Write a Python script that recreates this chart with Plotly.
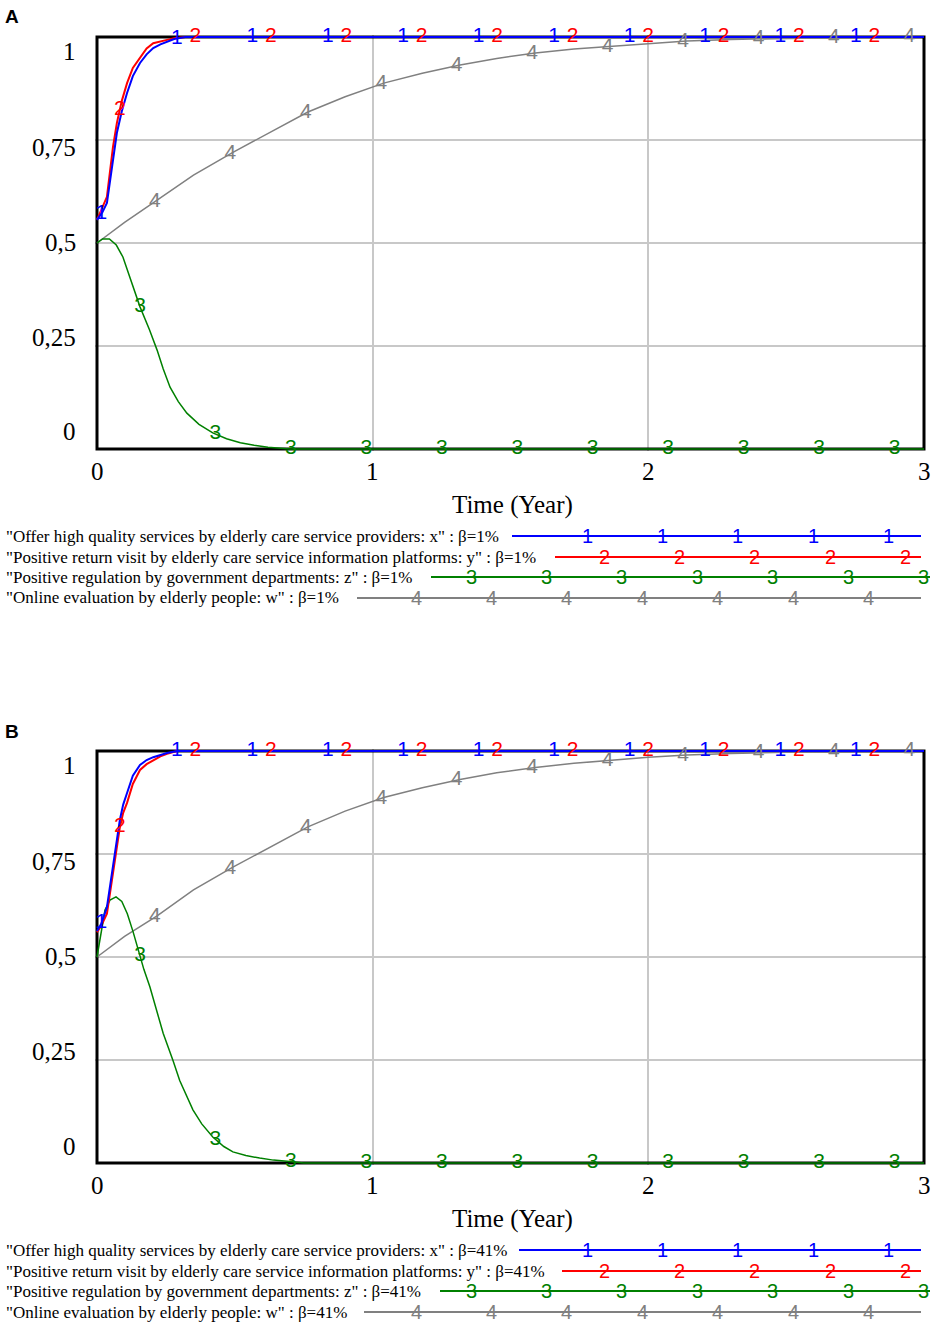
"""
    Two stacked system-dynamics style panels (A: beta=1%, B: beta=41%)
"""
import numpy as np
import plotly.graph_objects as go

# ---- data ------------------------------------------------------------------
t_a_fast = [0, 0.02, 0.036, 0.058, 0.072, 0.09, 0.109, 0.13, 0.156, 0.18,
            0.204, 0.23, 0.254, 0.28, 0.32, 3.0]
x_a = [0.556, 0.575, 0.597, 0.70, 0.767, 0.82, 0.864, 0.905, 0.937, 0.958,
       0.973, 0.982, 0.988, 0.995, 1.0, 1.0]
y_a = [0.556, 0.585, 0.612, 0.733, 0.791, 0.845, 0.888, 0.925, 0.951, 0.972,
       0.985, 0.990, 0.993, 0.997, 1.0, 1.0]

t_a_z = [0, 0.02, 0.045, 0.07, 0.094, 0.12, 0.156, 0.19, 0.218, 0.24, 0.265,
         0.295, 0.326, 0.37, 0.42, 0.47, 0.52, 0.57, 0.62, 0.7, 3.0]
z_a = [0.5, 0.51, 0.51, 0.495, 0.466, 0.415, 0.345, 0.29, 0.24, 0.195, 0.15,
       0.115, 0.087, 0.06, 0.039, 0.025, 0.015, 0.009, 0.004, 0.0, 0.0]

t_w = [0, 0.1, 0.218, 0.35, 0.493, 0.63, 0.765, 0.9, 1.04, 1.18, 1.317, 1.45,
       1.59, 1.73, 1.86, 2.0, 2.14, 2.3, 2.5, 2.7, 3.0]
w_a = [0.5, 0.55, 0.604, 0.665, 0.72, 0.77, 0.818, 0.855, 0.888, 0.912, 0.932,
       0.948, 0.961, 0.971, 0.977, 0.985, 0.99, 0.994, 0.997, 0.999, 1.0]
w_b = [0.5, 0.55, 0.600, 0.663, 0.718, 0.768, 0.816, 0.854, 0.887, 0.911, 0.931,
       0.947, 0.960, 0.970, 0.977, 0.985, 0.99, 0.994, 0.997, 0.999, 1.0]

t_b_fast = [0, 0.015, 0.036, 0.05, 0.065, 0.083, 0.095, 0.109, 0.13, 0.156,
            0.18, 0.204, 0.23, 0.254, 0.29, 3.0]
x_b = [0.563, 0.58, 0.621, 0.69, 0.752, 0.833, 0.87, 0.898, 0.94, 0.966,
       0.978, 0.985, 0.991, 0.995, 1.0, 1.0]
y_b = [0.56, 0.575, 0.605, 0.67, 0.735, 0.815, 0.85, 0.874, 0.92, 0.954,
       0.968, 0.978, 0.987, 0.993, 1.0, 1.0]

t_b_z = [0, 0.015, 0.029, 0.047, 0.069, 0.09, 0.11, 0.131, 0.152, 0.17, 0.192,
         0.215, 0.24, 0.276, 0.30, 0.348, 0.38, 0.42, 0.46, 0.493, 0.54, 0.59,
         0.64, 0.69, 0.75, 3.0]
z_b = [0.5, 0.56, 0.614, 0.638, 0.646, 0.635, 0.605, 0.561, 0.512, 0.47, 0.427,
       0.37, 0.315, 0.248, 0.20, 0.129, 0.095, 0.063, 0.04, 0.027, 0.018, 0.012,
       0.007, 0.004, 0.0, 0.0]

x_ticks = [0, 1, 2, 3]
y_ticks = [0, 0.25, 0.5, 0.75, 1]
y_tick_text = ['0', '0,25', '0,5', '0,75', '1']
x_title = 'Time (Year)'

names = ['"Offer high quality services by elderly care service providers: x" : β=',
         '"Positive return visit by elderly care service information platforms: y" : β=',
         '"Positive regulation by government departments: z" : β=',
         '"Online evaluation by elderly people: w" : β=']
betas = ['1%', '41%']
panel_labels = ['A', 'B']

colors = ['#0000ff', '#ff0000', '#008000', '#808080']
widths = [2, 2, 1.5, 1.5]
digits = ['1', '2', '3', '4']

# ---- geometry (pixels of the 935x1326 page) ---------------------------------
W, H = 935, 1326
X0, X1 = 97, 924          # t=0 and t=3
PANEL_TOP = [37, 751]     # value 1
PANEL_BOT = [449, 1163]   # value 0
MARK_OFFSETS = [0.016, 0.083, 0.156, 0.21]
MARK_STEP = 0.2737
LEG_ROWS = [536, 557, 577, 598]
LEG_START = [[512, 555, 431, 357], [519, 562, 440, 364]]
LEG_END = [921, 921, 930, 921]
LEG_MARK0 = [587, 604, 471, 416]
LEG_MARK_N = [5, 5, 7, 7]
LEG_STEP = 75.4

SERIF = 'Liberation Serif, Times New Roman, serif'
SANS = 'Liberation Sans, Arial, sans-serif'


def px_x(p):
    return p / W


def px_y(p):
    return 1 - p / H


panels = [
    [(t_a_fast, x_a), (t_a_fast, y_a), (t_a_z, z_a), (t_w, w_a)],
    [(t_b_fast, x_b), (t_b_fast, y_b), (t_b_z, z_b), (t_w, w_b)],
]

fig = go.Figure()
annotations = []
shapes = []
sx = (X1 - X0) / 3.0

for p, series in enumerate(panels):
    sfx = '' if p == 0 else '2'
    xa, ya = 'x' + sfx, 'y' + sfx
    top, bot = PANEL_TOP[p], PANEL_BOT[p]
    sy = bot - top

    # lines, drawn gray -> blue so blue sits on top
    for i in [3, 2, 1, 0]:
        t, v = series[i]
        fig.add_trace(go.Scatter(x=t, y=v, mode='lines', xaxis=xa, yaxis=ya,
                                 line=dict(color=colors[i], width=widths[i]),
                                 hoverinfo='skip'))
    # numbered markers along each line
    for i in [3, 2, 1, 0]:
        t, v = series[i]
        tm = np.arange(MARK_OFFSETS[i], 3.0, MARK_STEP)
        vm = np.interp(tm, t, v)
        fig.add_trace(go.Scatter(x=tm, y=vm, mode='text', xaxis=xa, yaxis=ya,
                                 text=[digits[i]] * len(tm),
                                 textposition='middle center', cliponaxis=False,
                                 textfont=dict(family=SANS, size=21, color=colors[i]),
                                 hoverinfo='skip'))

    # frame
    shapes.append(dict(type='rect', xref=xa, yref=ya, x0=0, x1=3, y0=0, y1=1,
                       line=dict(color='black', width=3), layer='between'))

    # tick labels (Vensim squeezes them inside the frame)
    for val, txt in zip(y_ticks, y_tick_text):
        lab_px = (top + 15) + (1 - val) * (sy - 32)
        annotations.append(dict(text=txt, xref='paper', yref='paper',
                                x=px_x(78), y=px_y(lab_px), xanchor='right',
                                yanchor='middle', showarrow=False,
                                font=dict(family=SERIF, size=25, color='black')))
    for val in x_ticks:
        annotations.append(dict(text=str(val), xref=xa, yref='paper', x=val,
                                y=px_y(bot + 22), xanchor='center', yanchor='middle',
                                showarrow=False,
                                font=dict(family=SERIF, size=25, color='black')))
    annotations.append(dict(text=x_title, xref='paper', yref='paper',
                            x=px_x(512), y=px_y(bot + 56), xanchor='center',
                            yanchor='middle', showarrow=False,
                            font=dict(family=SERIF, size=25, color='black')))
    annotations.append(dict(text='<b>%s</b>' % panel_labels[p], xref='paper',
                            yref='paper', x=px_x(3), y=px_y(top - 20),
                            xanchor='left', yanchor='middle', showarrow=False,
                            font=dict(family=SANS, size=19, color='black')))

    # legend block under the panel
    shift = p * 714
    for i in range(4):
        row = LEG_ROWS[i] + shift
        annotations.append(dict(text=names[i] + betas[p], xref='paper', yref='paper',
                                x=px_x(4), y=px_y(row), xanchor='left',
                                yanchor='middle', showarrow=False,
                                font=dict(family=SERIF, size=17, color='black')))
        shapes.append(dict(type='line', xref='paper', yref='paper',
                           x0=px_x(LEG_START[p][i]), x1=px_x(LEG_END[i]),
                           y0=px_y(row), y1=px_y(row),
                           line=dict(color=colors[i], width=2)))
        for k in range(LEG_MARK_N[i]):
            annotations.append(dict(text=digits[i], xref='paper', yref='paper',
                                    x=px_x(LEG_MARK0[i] + k * LEG_STEP), y=px_y(row),
                                    xanchor='center', yanchor='middle',
                                    showarrow=False,
                                    font=dict(family=SANS, size=20, color=colors[i])))

    x_layout = dict(domain=[px_x(X0 - 2), px_x(X1 + 2)],
                    range=[-2 / sx, 3 + 2 / sx], anchor=ya,
                    tickvals=[1, 2], showticklabels=False, ticks='',
                    showgrid=True, gridcolor='#c8c8c8', gridwidth=1.5,
                    zeroline=False, showline=False, fixedrange=True)
    y_layout = dict(domain=[px_y(bot + 2), px_y(top - 2)],
                    range=[-2 / sy, 1 + 2 / sy], anchor=xa,
                    tickvals=[0.25, 0.5, 0.75], showticklabels=False, ticks='',
                    showgrid=True, gridcolor='#c8c8c8', gridwidth=1.5,
                    zeroline=False, showline=False, fixedrange=True)
    fig.update_layout({'xaxis' + sfx: x_layout, 'yaxis' + sfx: y_layout})

fig.update_layout(width=W, height=H, margin=dict(l=0, r=0, t=0, b=0),
                  paper_bgcolor='white', plot_bgcolor='white', showlegend=False,
                  annotations=annotations, shapes=shapes)

# the page body has an 8px default margin; drop it so the figure fills the window
fig.write_html("out.html", config={'displayModeBar': False},
               post_script="document.body.style.margin='0';"
                           "document.body.style.overflow='hidden';")
